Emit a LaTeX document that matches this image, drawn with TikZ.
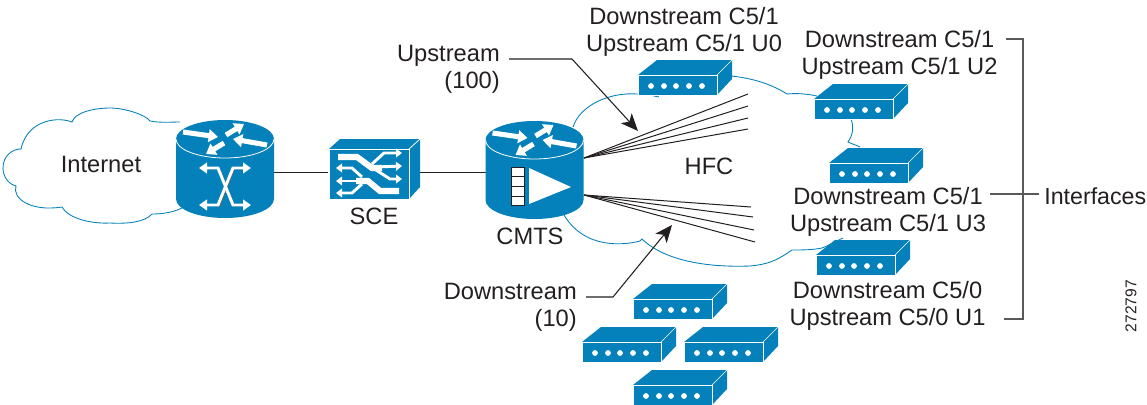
\documentclass[tikz,border=0pt]{standalone}
\usepackage{fontspec}
\setmainfont{Liberation Sans}
\usetikzlibrary{arrows.meta}
\definecolor{ciscoblue}{HTML}{0480BA}
\definecolor{ink}{HTML}{231F20}
\definecolor{rulegrey}{HTML}{58595B}
\tikzset{
  x=0.75pt,y=-0.75pt,
  lbl/.style={text=ink,font=\fontsize{17.75pt}{20.25pt}\selectfont,inner sep=0pt,align=center},
  lblr/.style={lbl,align=right,anchor=north east},
  linkline/.style={ciscoblue,line width=0.65pt},
  wire/.style={ink,line width=0.75pt},
  fanline/.style={ink,line width=0.75pt},
  leader/.style={ink,line width=0.8pt,line join=miter},
  callout/.style={leader,-{Stealth[length=13pt,width=11pt,inset=3.5pt]}},
  bracketline/.style={rulegrey,line width=0.9pt},
  devbox/.style={inner sep=0pt,minimum height=30pt},
  wa/.style={white,line width=3.8pt,-{Triangle[length=7pt,width=9.5pt]}},
  wb/.style={white,line width=2.2pt,{Triangle[length=6pt,width=8pt]}-{Triangle[length=6pt,width=8pt]},line join=miter},
  wc/.style={white,line width=2.2pt,-{Triangle[length=4.5pt,width=6.5pt]},line join=miter},
  modem/.pic={
    \fill[ciscoblue] (0,0)--(19,-15)--(94,-15)--(94,4)--(79,20)--(0,20)--cycle;
    \draw[white,line width=0.5pt] (0,0) rectangle (79,20);
    \draw[white,line width=0.5pt] (79,0)--(94,-15);
    \foreach \dx in {13,26,38,51,64}{\fill[white] (\dx,11) circle[radius=2.9];}
  },
  cylinder top/.pic={
    \fill[ciscoblue] (-49,0) arc[start angle=180,end angle=0,x radius=36.75pt,y radius=14.25pt]
      -- (49,60) arc[start angle=360,end angle=180,x radius=36.75pt,y radius=14.25pt] -- cycle;
    \draw[white,line width=0.6pt] (-49,0) arc[start angle=180,end angle=360,x radius=36.75pt,y radius=14.25pt];
    \draw[wa] (-42,-7)--(-7,-2);
    \draw[wa] (1,-4)--(19,-15);
    \draw[wa] (42,6)--(8,0);
    \draw[wa] (-1,4)--(-19,15);
  }
}
\begin{document}
\begin{tikzpicture}
\useasboundingbox (0,0) rectangle (1147,404);
% clouds
\draw[linkline] (180,122) .. controls (172,122) and (160,123) .. (150,121)
  .. controls (146,115) and (125,108) .. (110,108)
  .. controls (95,108) and (75,112) .. (72,122)
  .. controls (60,117) and (28,118) .. (21,149)
  .. controls (12,149) and (3,156) .. (3,168)
  .. controls (3,176) and (8,184) .. (16,186)
  .. controls (12,198) and (30,212) .. (62,207)
  .. controls (68,218) and (90,224) .. (110,223)
  .. controls (128,224) and (145,222) .. (152,214)
  .. controls (160,214) and (172,213) .. (182,208);
\draw[linkline] (573,127) .. controls (580,105) and (610,92) .. (637,94)
  .. controls (645,94) and (652,95) .. (658,97) -- (659,95);
\draw[linkline] (717,75) .. controls (745,76) and (768,82) .. (787,94)
  .. controls (797,93) and (808,94) .. (817,96);
\draw[linkline] (851,119) .. controls (854,127) and (853,135) .. (848,142)
  .. controls (852,144) and (856,145) .. (860,147);
\draw[linkline] (843,238) .. controls (838,240) and (830,245) .. (822,248)
  .. controls (812,250) and (802,250) .. (792,250)
  .. controls (780,258) and (772,264) .. (750,266)
  .. controls (725,267) and (670,266) .. (642,239)
  -- (640,241) .. controls (625,245) and (585,250) .. (564,215);
% connectors
\node[devbox,minimum width=73.5pt] (router) at (225,172) {};
\node[devbox,minimum width=69pt] (sce) at (374,172) {};
\node[devbox,minimum width=73pt] (cmts) at (534.5,172) {};
\draw[wire] (router) -- (sce);
\draw[wire] (sce) -- (cmts);
% router
\pic at (225,139) {cylinder top};
\draw[ink!70,line width=1.8pt] (219,169.5)--(234,206.5);
\draw[ink!70,line width=1.8pt] (233.5,169.5)--(218.5,206.5);
\draw[wb] (199,168)--(218,168)--(233,205)--(251,205);
\draw[wb] (251,168)--(233,168)--(218,205)--(199,205);
% SCE
\fill[ciscoblue] (329,149)--(340,139)--(420,139)--(420,187)--(409,199)--(329,199)--cycle;
\draw[white,line width=0.6pt] (329,149)rectangle(409,199);
\draw[white,line width=0.6pt] (409,149)--(420,139);
\draw[white,line width=4.6pt,line join=miter] (338,157)--(357,157)--(372,168)--(382,168);
\draw[wc] (372,164)--(384,153)--(402,153);
\draw[wc] (376,167)--(402,166);
\draw[wc] (376,170)--(390,179)--(402,179);
\draw[white,line width=4.6pt,line join=miter] (399,191)--(380,191)--(368,181)--(356,181);
\draw[wc] (362,177)--(352,168)--(336,168);
\draw[wc] (362,181)--(336,181);
\draw[wc] (362,184)--(352,193)--(336,193);
% CMTS
\pic at (534.5,140) {cylinder top};
\foreach \yy in {167,176.7,186.4,196.1}{\draw[ink,fill=white,line width=0.6pt] (511,\yy) rectangle (524,\yy+9.7);}
\fill[white] (529,168)--(571,187)--(529,204)--cycle;
% fans
\coordinate (fanU) at (584,158);
\coordinate (fanD) at (584,195);
\foreach \ex/\ey in {748/94,748/106,748/118,748/129}{\draw[fanline] (fanU)--(\ex,\ey);}
\foreach \ex/\ey in {751/207,753/217,754/230,755/242}{\draw[fanline] (fanD)--(\ex,\ey);}
% modems
\foreach \mx/\my in {638/75,814/99,829/163,816/255,633/299,582/342,684/342,633/385}{\pic at (\mx,\my) {modem};}
% callouts
\coordinate (upA) at (509,59);
\coordinate (upB) at (572,59);
\coordinate (upC) at (638,131);
\draw[callout] (upA)--(upB)--(upC);
\coordinate (dnA) at (586,297);
\coordinate (dnB) at (613,297);
\coordinate (dnC) at (672,225);
\draw[callout] (dnA)--(dnB)--(dnC);
% texts
\node[lbl] (tInternet) at (101,164) {Internet};
\node[lbl] (tSCE) at (374,216) {SCE};
\node[lbl] (tCMTS) at (530,236) {CMTS};
\node[lbl] (tHFC) at (709,166) {HFC};
\node[lblr] (tUp) at (500,44.5) {Upstream\\(100)};
\node[lblr] (tDown) at (577,282.5) {Downstream\\(10)};
\node[lbl] (tU0) at (684,32) {Downstream C5/1\\Upstream C5/1 U0};
\node[lbl] (tU2) at (899.5,55) {Downstream C5/1\\Upstream C5/1 U2};
\node[lbl] (tU3) at (888,212) {Downstream C5/1\\Upstream C5/1 U3};
\node[lbl] (tU1) at (887.5,306) {Downstream C5/0\\Upstream C5/0 U1};
\node[lbl,font=\fontsize{17.4pt}{20.25pt}\selectfont,anchor=east] (tIf) at (1146.5,196.5) {Interfaces};
\node[text=ink,font=\fontsize{11.7pt}{12pt}\selectfont,inner sep=0pt,rotate=90] (tId) at (1131,306) {272797};
% bracket
\coordinate (brA) at (1006,39);
\coordinate (brB) at (1023,39);
\coordinate (brC) at (1023,319);
\coordinate (brD) at (1004,319);
\coordinate (brE) at (990,194);
\coordinate (brF) at (1039,194);
\draw[bracketline] (brA)--(brB)--(brC)--(brD);
\draw[bracketline] (brE)--(brF);
\end{tikzpicture}
\end{document}
